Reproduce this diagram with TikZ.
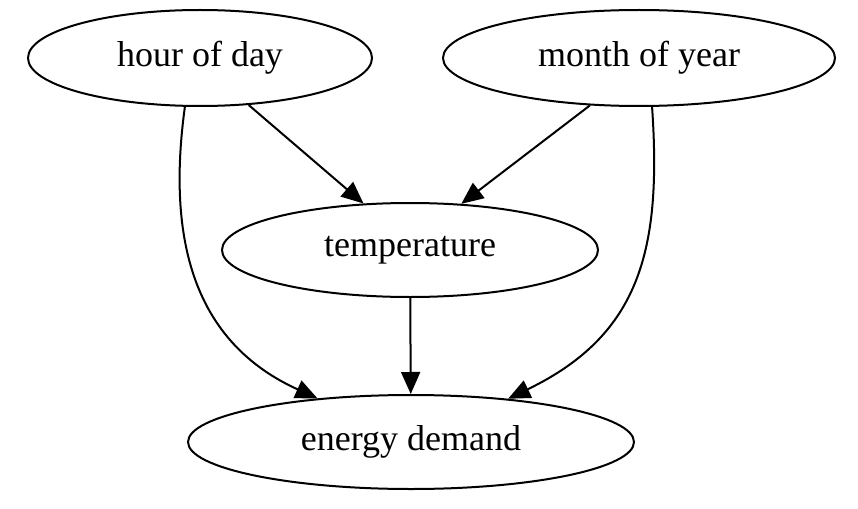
\documentclass[tikz,border=0pt]{standalone}
\usepackage{fontspec}
\setmainfont{Liberation Serif}
\usetikzlibrary{shapes.geometric,arrows.meta}
\begin{document}
\begin{tikzpicture}[x=1pt,y=-1pt,
  nd/.style={ellipse,draw,line width=2pt,inner sep=0pt,font=\fontsize{36}{42}\selectfont},
  ed/.style={line width=2pt,-{Triangle[length=22pt,width=19pt]}}]
\useasboundingbox (0,0) rectangle (858,508);
\node[nd,minimum width=344pt,minimum height=96pt] (h) at (200,58) {hour of day};
\node[nd,minimum width=392pt,minimum height=96pt] (m) at (639,58) {month of year};
\node[nd,minimum width=376pt,minimum height=94pt] (t) at (410,250) {temperature};
\node[nd,minimum width=446pt,minimum height=94pt] (e) at (411,442) {energy demand};
\coordinate (h1) at (185,106);
\coordinate (m1) at (652,106);
\draw[ed] (h.-44) -- (t.135);
\draw[ed] (m.-136) -- (t.42);
\draw[ed] (t) -- (e);
\draw[ed] (h1) .. controls (165,250) and (200,345) .. (e.155);
\draw[ed] (m1) .. controls (662,250) and (640,335) .. (e.24);
\end{tikzpicture}
\end{document}
